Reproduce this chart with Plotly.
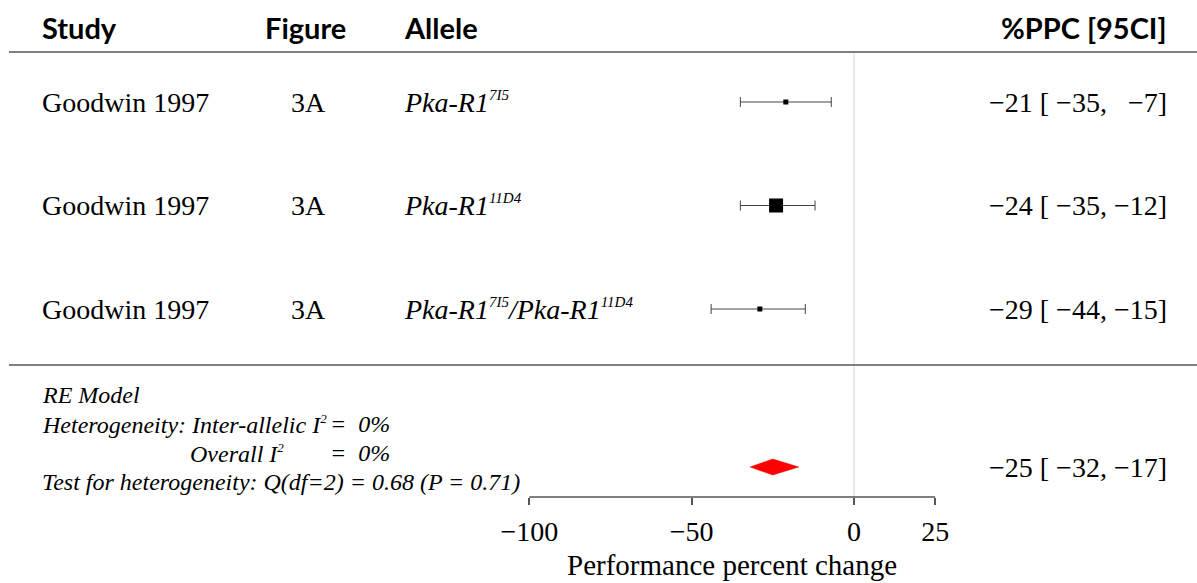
import plotly.graph_objects as go

# ---- data -------------------------------------------------------------
studies = ["Goodwin 1997", "Goodwin 1997", "Goodwin 1997"]
figures = ["3A", "3A", "3A"]
SUP = '<sup><span style="font-size:15px">{}</span></sup>'
alleles = [
    "Pka-R1" + SUP.format("7I5"),
    "Pka-R1" + SUP.format("11D4"),
    "Pka-R1" + SUP.format("7I5") + "/Pka-R1" + SUP.format("11D4"),
]
estimates = [-21, -24, -29]
ci_low = [-35, -35, -44]
ci_high = [-7, -12, -15]
weight_px = [5, 14, 5]          # square size per study (weight)

re_estimate, re_low, re_high = -25, -32, -17
I2 = 'I<sup><span style="font-size:13px">2</span></sup>'
stats_lines = {
    "model": "RE Model",
    "het_left": "Heterogeneity: Inter-allelic " + I2,
    "het_right": "=  0%",
    "overall_left": "Overall " + I2,
    "overall_right": "=  0%",
    "test": "Test for heterogeneity: Q(df=2) = 0.68 (P = 0.71)",
}
tick_values = [-100, -50, 0, 25]
x_title = "Performance percent change"
headers = ["Study", "Figure", "Allele", "%PPC [95CI]"]

# ---- layout helpers ---------------------------------------------------
W, H = 1197, 583
ROW0_PX, ROW_STEP = 102.0, 103.5          # pixel centre of first row, row pitch


def row(py):
    """Convert a vertical page position to row units."""
    return (py - ROW0_PX) / ROW_STEP


ZERO_PX, UNIT_PX = 854.0, 3.247
x_range = [(0 - ZERO_PX) / UNIT_PX, (W - ZERO_PX) / UNIT_PX]
y_range = [row(H), row(0)]

rows = list(range(len(studies)))
y_header, y_hline, y_sep = row(27), row(52), row(365)
y_summary, y_axis, y_xtitle = row(467), row(497), row(565)

MINUS = "\u2212"
FIG_SP = "\u2007"


def fmt(v, width=3):
    s = (MINUS if v < 0 else "") + str(abs(int(round(v))))
    return FIG_SP * max(0, width - len(s)) + s


def ci_label(e, lo, hi):
    return f"{fmt(e)} [ {fmt(lo)}, {fmt(hi)}]"


SERIF = "Liberation Serif"
SANS_BOLD = "Lato"

fig = go.Figure()

# study estimates with confidence intervals
for i in rows:
    fig.add_trace(go.Scatter(
        x=[estimates[i]], y=[i], mode="markers",
        marker=dict(symbol="square", size=weight_px[i], color="black",
                    line=dict(width=0)),
        error_x=dict(type="data", symmetric=False,
                     array=[ci_high[i] - estimates[i]],
                     arrayminus=[estimates[i] - ci_low[i]],
                     width=5, thickness=1, color="#444444"),
        showlegend=False, hoverinfo="skip",
    ))

# pooled random-effects diamond
half_h = 8.0 / ROW_STEP
fig.add_trace(go.Scatter(
    x=[re_low, re_estimate, re_high, re_estimate, re_low],
    y=[y_summary, y_summary - half_h, y_summary, y_summary + half_h, y_summary],
    mode="lines", fill="toself", fillcolor="#ff0000",
    line=dict(color="#ff0000", width=0.5),
    showlegend=False, hoverinfo="skip",
))

shapes = [
    # reference line at zero
    dict(type="line", xref="x", yref="y", x0=0, x1=0, y0=y_hline, y1=y_axis,
         line=dict(color="#d4d4d4", width=1), layer="below"),
    # header rule and summary separator
    dict(type="line", xref="paper", yref="y", x0=9 / W, x1=1, y0=y_hline, y1=y_hline,
         line=dict(color="#555555", width=1.5)),
    dict(type="line", xref="paper", yref="y", x0=9 / W, x1=1, y0=y_sep, y1=y_sep,
         line=dict(color="#555555", width=1.5)),
    # axis baseline
    dict(type="line", xref="x", yref="y", x0=tick_values[0], x1=tick_values[-1],
         y0=y_axis, y1=y_axis, line=dict(color="#555555", width=1.5)),
]

ann = []


def text(x, y, s, size, family=SERIF, xanchor="left", color="black"):
    ann.append(dict(x=x / W, y=y, xref="paper", yref="y", text=s, showarrow=False,
                    xanchor=xanchor, yanchor="middle", borderpad=0, borderwidth=0,
                    font=dict(family=family, size=size, color=color)))


# column headers
text(42, y_header, f"<b>{headers[0]}</b>", 29, SANS_BOLD)
text(265, y_header, f"<b>{headers[1]}</b>", 29, SANS_BOLD)
text(404, y_header, f"<b>{headers[2]}</b>", 29, SANS_BOLD)
text(1167, y_header, f"<b>{headers[3]}</b>", 29, SANS_BOLD, xanchor="right")

# study rows
for i in rows:
    text(42, i, studies[i], 28)
    text(308, i, figures[i], 28, xanchor="center")
    text(404, i, f"<i>{alleles[i]}</i>", 28)
    text(1167, i, ci_label(estimates[i], ci_low[i], ci_high[i]), 28, xanchor="right")

# summary row
text(1167, y_summary, ci_label(re_estimate, re_low, re_high), 28, xanchor="right")
text(42, row(395), f"<i>{stats_lines['model']}</i>", 24)
text(42, row(424), f"<i>{stats_lines['het_left']}</i>", 24)
text(330, row(424), f"<i>{stats_lines['het_right']}</i>", 24)
text(190, row(453), f"<i>{stats_lines['overall_left']}</i>", 24)
text(330, row(453), f"<i>{stats_lines['overall_right']}</i>", 24)
text(42, row(482), f"<i>{stats_lines['test']}</i>", 24)

# axis title, centred under the axis span
ann.append(dict(x=(tick_values[0] + tick_values[-1]) / 2, y=y_xtitle,
                xref="x", yref="y", text=x_title, showarrow=False,
                xanchor="center", yanchor="middle", borderpad=0,
                font=dict(family=SERIF, size=29, color="black")))

tick_text = [fmt(v, 0) for v in tick_values]

fig.update_layout(
    width=W, height=H,
    margin=dict(l=0, r=0, t=0, b=0),
    paper_bgcolor="white", plot_bgcolor="white",
    shapes=shapes, annotations=ann,
    xaxis=dict(range=x_range, anchor="free", position=1 - 497 / H,
               showgrid=False, zeroline=False, showline=False,
               tickmode="array", tickvals=tick_values, ticktext=tick_text,
               ticks="outside", ticklen=7, tickwidth=1.5, tickcolor="#555555",
               ticklabelstandoff=2,
               tickfont=dict(family=SERIF, size=28, color="black")),
    yaxis=dict(range=y_range, showgrid=False, zeroline=False, showline=False,
               showticklabels=False, ticks=""),
)

fig.write_html("out.html")
